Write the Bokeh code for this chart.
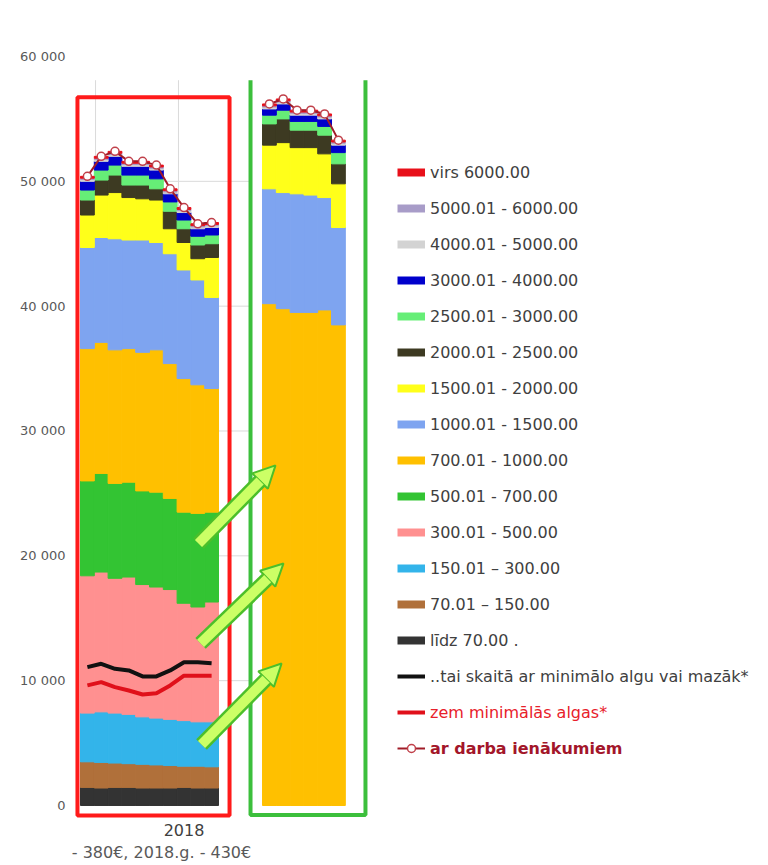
import numpy as np
from bokeh.plotting import figure
from bokeh.models import (ColumnDataSource, Range1d, FixedTicker, Legend, LegendItem,
                          BoxAnnotation, Arrow, NormalHead, LinearAxis)
from bokeh.embed import file_html
from bokeh.resources import INLINE

# ---------------- data ----------------
band_keys = ["lidz70", "b70_150", "b150_300", "b300_500", "b500_700", "b700_1000",
             "b1000_1500", "b1500_2000", "b2000_2500", "b2500_3000", "b3000_4000",
             "b4000_5000", "b5000_6000", "virs6000"]
band_labels = ["līdz 70.00 .", "70.01 – 150.00", "150.01 – 300.00", "300.01 - 500.00",
               "500.01 - 700.00", "700.01 - 1000.00", "1000.01 - 1500.00",
               "1500.01 - 2000.00", "2000.01 - 2500.00", "2500.01 - 3000.00",
               "3000.01 - 4000.00", "4000.01 - 5000.00", "5000.01 - 6000.00",
               "virs 6000.00"]
band_colors = ["#333333", "#b0703a", "#33b4ea", "#ff9090", "#33c433", "#ffc000",
               "#7ea4f0", "#ffff1a", "#3d3a22", "#66ee77", "#0000cc", "#d3d3d3",
               "#a89cc8", "#e8101a"]

# 2018 (left group), 10 months
lidz70_L = [1450, 1400, 1450, 1450, 1400, 1400, 1400, 1450, 1400, 1400]
b70_150_L = [2050, 2050, 1950, 1900, 1900, 1850, 1800, 1700, 1750, 1700]
b150_300_L = [3900, 4050, 4000, 3950, 3800, 3750, 3700, 3650, 3550, 3600]
b300_500_L = [11000, 11200, 10800, 11000, 10600, 10500, 10400, 9400, 9200, 9600]
b500_700_L = [7600, 7900, 7600, 7600, 7500, 7600, 7300, 7300, 7500, 7200]
b700_1000_L = [10600, 10500, 10700, 10700, 11100, 11400, 10800, 10700, 10300, 9900]
b1000_1500_L = [8100, 8400, 8900, 8700, 9000, 8600, 8800, 8700, 8400, 7300]
b1500_2000_L = [2600, 3400, 3700, 3400, 3300, 3400, 2000, 2200, 1700, 3200]
b2000_2500_L = [1200, 1200, 1400, 1000, 1100, 900, 1400, 1100, 1100, 1100]
b2500_3000_L = [800, 800, 800, 800, 800, 800, 750, 700, 700, 700]
b3000_4000_L = [700, 700, 700, 700, 700, 700, 650, 600, 600, 600]
b4000_5000_L = [150, 150, 150, 150, 150, 150, 150, 150, 150, 150]
b5000_6000_L = [100, 100, 100, 100, 100, 100, 100, 100, 100, 100]
virs6000_L = [150, 150, 150, 150, 150, 150, 150, 150, 150, 150]
min_or_less_L = [11080, 11350, 10950, 10820, 10340, 10340, 10820, 11480, 11480, 11400]
below_min_L = [9620, 9880, 9480, 9210, 8890, 9000, 9620, 10400, 10400, 10400]

# right group, 6 months (lower bands merged into 700.01 - 1000.00)
b700_1000_R = [40200, 39800, 39500, 39500, 39700, 38500]
b1000_1500_R = [9200, 9300, 9500, 9400, 9000, 7800]
b1500_2000_R = [3500, 4000, 3700, 3800, 3500, 3500]
b2000_2500_R = [1700, 1900, 1400, 1400, 1500, 1600]
b2500_3000_R = [700, 700, 700, 700, 700, 900]
b3000_4000_R = [500, 500, 500, 500, 600, 600]
b4000_5000_R = [150, 150, 150, 150, 150, 150]
b5000_6000_R = [100, 100, 100, 100, 100, 100]
virs6000_R = [150, 150, 150, 150, 150, 150]

y_ticks = [0, 10000, 20000, 30000, 40000, 50000, 60000]
x_tick_label = "2018"
footnote = "- 380€, 2018.g. - 430€"

# ---------------- layout constants ----------------
GAP = 3.19           # empty slots between the two groups
PX = 13.8            # px per column
xL = np.arange(len(lidz70_L)).astype(float)
xR = np.arange(len(b700_1000_R)) + len(lidz70_L) + GAP

left_data = dict(x=xL, lidz70=lidz70_L, b70_150=b70_150_L, b150_300=b150_300_L,
                 b300_500=b300_500_L, b500_700=b500_700_L, b700_1000=b700_1000_L,
                 b1000_1500=b1000_1500_L, b1500_2000=b1500_2000_L,
                 b2000_2500=b2000_2500_L, b2500_3000=b2500_3000_L,
                 b3000_4000=b3000_4000_L, b4000_5000=b4000_5000_L,
                 b5000_6000=b5000_6000_L, virs6000=virs6000_L)
right_data = dict(x=xR, b700_1000=b700_1000_R, b1000_1500=b1000_1500_R,
                  b1500_2000=b1500_2000_R, b2000_2500=b2000_2500_R,
                  b2500_3000=b2500_3000_R, b3000_4000=b3000_4000_R,
                  b4000_5000=b4000_5000_R, b5000_6000=b5000_6000_R,
                  virs6000=virs6000_R)
totL = np.sum([left_data[k] for k in band_keys], axis=0)
right_keys = band_keys[5:]
totR = np.sum([right_data[k] for k in right_keys], axis=0)

x_start = -0.5 - 8 / PX
x_end = x_start + 696 / PX
p = figure(width=768, height=865, output_backend="svg", toolbar_location=None,
           x_range=Range1d(x_start, x_end), y_range=Range1d(-1202, 60000),
           min_border_left=72, min_border_right=0, min_border_top=56,
           min_border_bottom=45)
p.outline_line_color = None
p.xgrid.visible = False
p.ygrid.visible = False

# custom gridlines (only over chart area)
gy = y_ticks[1:-1]
p.segment(x0=[-0.5] * len(gy), x1=[11.82] * len(gy), y0=gy, y1=gy,
          line_color="#dadada", line_width=1)
gx = [0.59, 6.6]
p.segment(x0=gx, x1=gx, y0=[0, 0], y1=[58100, 58100], line_color="#dadada", line_width=1)

# stacked columns
p.vbar_stack(band_keys, x="x", width=1, color=band_colors, source=ColumnDataSource(left_data))
p.vbar_stack(right_keys, x="x", width=1, color=band_colors[5:], source=ColumnDataSource(right_data))

# lines
r_black = p.line(xL, min_or_less_L, line_width=4, color="#111111")
r_red = p.line(xL, below_min_L, line_width=4, color="#e0101a")
r_tot = p.line(xL, totL, line_width=2, color="#a01c28")
r_totm = p.scatter(xL, totL, size=8, marker="circle", fill_color="white",
                   line_color="#c0404a", line_width=1.5)
p.line(xR, totR, line_width=2, color="#a01c28")
p.scatter(xR, totR, size=8, marker="circle", fill_color="white",
          line_color="#c0404a", line_width=1.5)

# highlight boxes
p.add_layout(BoxAnnotation(left=-0.72, right=10.3, bottom=-800, top=56730,
                           fill_alpha=0, line_color="#ff1a1a", line_alpha=1.0,
                           line_width=4))
gl, gr, gb, gt = 11.82, 20.15, -770, 58100
p.line([gl, gl, gr, gr], [gt, gb, gb, gt], line_color="#3cbf3c", line_width=4)

# arrows
arr_x0 = [8.05, 8.2, 8.27]
arr_y0 = [20994, 12981, 4888]
arr_x1 = [13.63, 14.21, 14.07]
arr_y1 = [27244, 19391, 11378]
for a, b, c, d in zip(arr_x0, arr_y0, arr_x1, arr_y1):
    cm, dm = a + 0.8 * (c - a), b + 0.8 * (d - b)
    p.add_layout(Arrow(end=None, x_start=a, y_start=b, x_end=cm, y_end=dm,
                       line_color="#4cbf2a", line_width=15))
    p.add_layout(Arrow(end=NormalHead(size=22, fill_color="#ccff66", line_color="#4cbf2a",
                                      line_width=2),
                       x_start=a, y_start=b, x_end=c, y_end=d,
                       line_color="#ccff66", line_width=10))

# axes
p.yaxis.ticker = FixedTicker(ticks=y_ticks)
p.yaxis.major_label_overrides = {v: f"{v:,}".replace(",", " ") for v in y_ticks}
p.yaxis.axis_line_color = None
p.yaxis.major_tick_line_color = None
p.yaxis.major_tick_out = 0
p.yaxis.minor_tick_line_color = None
p.yaxis.minor_tick_out = 0
p.yaxis.major_label_standoff = 7
p.yaxis.major_label_text_font = "DejaVu Sans"
p.yaxis.major_label_text_font_size = "13px"
p.yaxis.major_label_text_color = "#595959"

p.xaxis.ticker = FixedTicker(ticks=[7.0])
p.xaxis.major_label_overrides = {7: x_tick_label}
p.xaxis.axis_line_color = None
p.xaxis.major_tick_line_color = None
p.xaxis.major_tick_out = 0
p.xaxis.minor_tick_line_color = None
p.xaxis.minor_tick_out = 0
p.xaxis.major_label_standoff = 3
p.xaxis.major_label_text_font = "DejaVu Sans"
p.xaxis.major_label_text_font_size = "16px"
p.xaxis.major_label_text_color = "#404040"

# footnote line under the axis, as a second bottom axis with a single labelled tick
footnote_x = 5.37
fax = LinearAxis(ticker=FixedTicker(ticks=[footnote_x]),
                 major_label_overrides={footnote_x: footnote},
                 axis_line_color=None, major_tick_line_color=None, major_tick_out=0,
                 minor_tick_line_color=None, minor_tick_out=0, major_label_standoff=4,
                 major_label_text_font="DejaVu Sans", major_label_text_font_size="16px",
                 major_label_text_color="#595959")
p.add_layout(fax, "below")

# legends (swatch renderers hold one NaN point so they draw nothing in the plot)
dummies = {}
for k, c in zip(band_keys, band_colors):
    dummies[k] = p.line([np.nan], [np.nan], line_width=8, color=c)
items_A = [LegendItem(label=lab, renderers=[dummies[k]])
           for k, lab in reversed(list(zip(band_keys, band_labels)))]
items_A.append(LegendItem(label="..tai skaitā ar minimālo algu vai mazāk*", renderers=[r_black]))

common = dict(orientation="vertical", glyph_width=28, glyph_height=20, label_height=20,
              spacing=16, padding=0, margin=0, label_standoff=5, border_line_color=None,
              background_fill_color="white", background_fill_alpha=1.0,
              label_text_font="DejaVu Sans", label_text_font_size="16px")
legA = Legend(items=items_A, location=(325, 134), label_text_color="#404040", **common)
legB = Legend(items=[LegendItem(label="zem minimālās algas*", renderers=[r_red])],
              location=(325, 98), label_text_color="#e8202a", **common)
legC = Legend(items=[LegendItem(label="ar darba ienākumiem", renderers=[r_tot, r_totm])],
              location=(325, 62), label_text_color="#a3162a",
              label_text_font_style="bold", **common)
for lg in (legA, legB, legC):
    p.add_layout(lg)

open("out.html", "w").write(file_html(p, INLINE))
